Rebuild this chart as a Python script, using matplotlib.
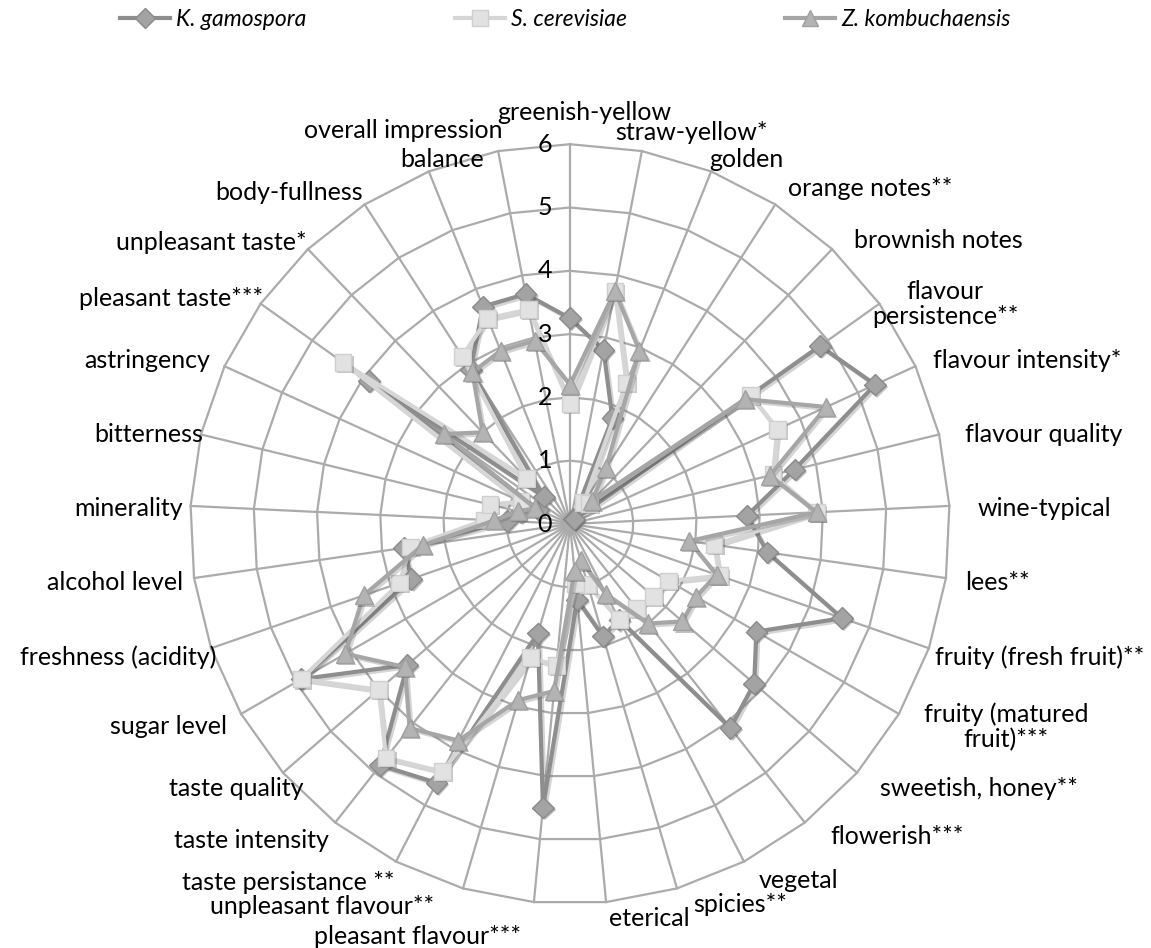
import numpy as np
import matplotlib
matplotlib.use("Agg")
import matplotlib.pyplot as plt
import matplotlib.patheffects as pe
from matplotlib.lines import Line2D

# ---------------- data ----------------
categories = [
    "greenish-yellow", "straw-yellow*", "golden", "orange notes**", "brownish notes",
    "flavour\npersistence**", "flavour intensity*", "flavour quality", "wine-typical", "lees**",
    "fruity (fresh fruit)**", "fruity (matured\nfruit)***", "sweetish, honey**", "flowerish***",
    "vegetal", "spicies**", "eterical", "pleasant flavour***", "unpleasant flavour**",
    "taste persistance **", "taste intensity", "taste quality", "sugar level",
    "freshness (acidity)", "alcohol level", "minerality", "bitterness", "astringency",
    "pleasant taste***", "unpleasant taste*", "body-fullness", "balance", "overall impression",
]

k_gamospora = [3.25, 2.8, 1.8, 0.1, 0.1, 4.85, 5.3, 3.65, 2.8, 3.15,
               4.55, 3.4, 3.85, 4.1, 1.7, 1.85, 1.2, 4.5, 1.8,
               4.6, 4.85, 3.4, 4.9, 2.65, 2.65, 1.0, 0.8, 0.55,
               3.9, 0.6, 2.9, 3.7, 3.7]
s_cerevisiae = [1.9, 3.75, 2.4, 0.4, 0.45, 3.5, 3.6, 3.3, 3.9, 2.3,
                2.5, 1.8, 1.75, 1.7, 1.7, 1.0, 0.95, 2.25, 2.2,
                4.4, 4.7, 4.0, 4.9, 2.85, 2.55, 1.35, 1.3, 0.85,
                4.4, 1.0, 3.15, 3.5, 3.45]
z_kombuchaensis = [2.2, 3.75, 2.95, 1.05, 0.5, 3.4, 4.45, 3.25, 3.9, 1.9,
                   2.45, 2.3, 2.35, 2.0, 1.25, 0.6, 0.75, 2.65, 2.9,
                   3.85, 4.1, 3.45, 4.1, 3.45, 2.35, 1.2, 0.85, 0.6,
                   2.45, 2.0, 2.85, 2.95, 2.95]

series_names = ["K. gamospora", "S. cerevisiae", "Z. kombuchaensis"]
ticks = [0, 1, 2, 3, 4, 5, 6]

# ---------------- layout (pixels) ----------------
W, H = 1151, 948
CX, CY = 570, 524      # centre of the web
UNIT = 63.3            # pixels per scale step

# label centres, pixel coordinates
label_pos = [
    (584, 112), (691, 132), (746, 160), (870, 189), (938, 240),
    (945, 304), (1027, 360), (1044, 434), (1044, 508), (997, 582),
    (1040, 657), (1006, 727), (979, 788), (897, 836),
    (799, 880), (740, 905), (649, 918), (418, 937), (322, 907),
    (288, 882), (251, 840), (236, 788), (169, 727),
    (118, 657), (115, 583), (129, 509), (149, 434), (147, 361),
    (171, 298), (211, 243), (289, 192), (442, 160), (403, 131),
]

FONT = "Lato"
FS = 18
GRID = "#ABABAB"
styles = [
    dict(line="#8E8E8E", face="#A3A3A3", edge="#8A8A8A", marker="D", ms=11),
    dict(line="#D6D6D6", face="#E2E2E2", edge="#CFCFCF", marker="s", ms=12),
    dict(line="#A6A6A6", face="#B3B3B3", edge="#A0A0A0", marker="^", ms=13),
]

fig = plt.figure(figsize=(W / 100, H / 100), dpi=100, facecolor="white")
ax = fig.add_axes([0, 0, 1, 1])
ax.set_xlim(-CX / UNIT, (W - CX) / UNIT)
ax.set_ylim(-(H - CY) / UNIT, CY / UNIT)
ax.set_aspect("equal")
ax.axis("off")

n = len(categories)
theta = np.arange(n) * 2 * np.pi / n


def polar_xy(vals):
    v = np.asarray(vals, dtype=float)
    return v * np.sin(theta), v * np.cos(theta)


# polygon rings and spokes
for r in ticks[1:]:
    x, y = polar_xy([r] * n)
    ax.plot(np.append(x, x[0]), np.append(y, y[0]), color=GRID, lw=1.6, zorder=1)
ox, oy = polar_xy([ticks[-1]] * n)
for i in range(n):
    ax.plot([0, ox[i]], [0, oy[i]], color=GRID, lw=1.6, zorder=1)

# series
shadow = [pe.SimpleLineShadow(offset=(1.5, -1.5), alpha=0.25, shadow_color="#555555"), pe.Normal()]
for z, (vals, st) in enumerate(zip([k_gamospora, s_cerevisiae, z_kombuchaensis], styles)):
    x, y = polar_xy(vals)
    ax.plot(np.append(x, x[0]), np.append(y, y[0]), color=st["line"], lw=3.0,
            solid_joinstyle="round", zorder=3 + z, path_effects=shadow)
    ax.plot(x, y, ls="none", marker=st["marker"], ms=st["ms"], mfc=st["face"],
            mec=st["edge"], mew=1.0, zorder=3 + z,
            path_effects=[pe.SimplePatchShadow(offset=(1.5, -1.5), alpha=0.3), pe.Normal()])

# scale numbers along the top spoke
for t in ticks:
    fig.text(552 / W, 1 - (CY - t * UNIT) / H, str(t), ha="right", va="center",
             fontsize=FS, family=FONT, color="black")

# category labels
for lab, (px, py) in zip(categories, label_pos):
    fig.text(px / W, 1 - py / H, lab, ha="center", va="center", fontsize=FS,
             family=FONT, color="black", linespacing=1.1)

# legend row
legend_x = [120, 455, 785]
for name, st, lx in zip(series_names, styles, legend_x):
    fig.add_artist(Line2D([lx / W, (lx + 50) / W], [1 - 18 / H, 1 - 18 / H],
                          transform=fig.transFigure, color=st["line"], lw=3.0))
    fig.add_artist(Line2D([(lx + 25) / W], [1 - 18 / H], transform=fig.transFigure,
                          ls="none", marker=st["marker"], ms=st["ms"] - 1,
                          mfc=st["face"], mec=st["edge"]))
    fig.text((lx + 56) / W, 1 - 19 / H, name, ha="left", va="center", fontsize=16.5,
             family=FONT, style="italic", color="black")

fig.savefig("out.png", dpi=100, facecolor="white")
